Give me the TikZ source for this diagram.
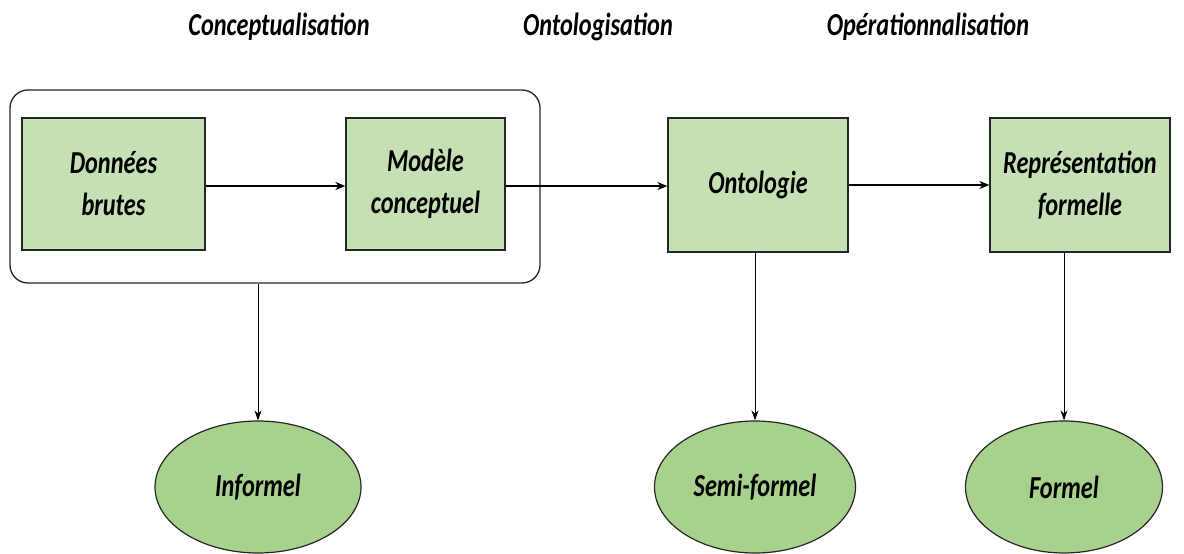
\documentclass[tikz,border=0pt]{standalone}
\usepackage{fontspec}
\setmainfont{Carlito}[FakeStretch=0.76]
\usetikzlibrary{shapes.geometric,arrows.meta}
\definecolor{boxfill}{HTML}{C5E0B4}
\definecolor{ovalfill}{HTML}{A9D18E}
\definecolor{edge}{HTML}{262626}
\tikzset{
  lbl/.style={font=\fontsize{32}{42}\selectfont\bfseries\itshape, align=center},
  stagebox/.style={lbl, draw=edge, line width=1.3pt, fill=boxfill, inner sep=0pt},
  level/.style={lbl, ellipse, draw=edge, line width=1.2pt, fill=ovalfill, inner sep=0pt,
    minimum height=132pt},
  group/.style={draw=edge, line width=1.3pt, rounded corners=18pt, inner sep=0pt},
  flow/.style={-{Stealth[length=10pt,width=8pt]}, line width=1.4pt, draw=black},
  down/.style={-{Stealth[length=10pt,width=7pt]}, line width=1pt, draw=black},
  phase/.style={lbl}
}
\begin{document}
\begin{tikzpicture}[x=1pt,y=-1pt]
\useasboundingbox (0,0) rectangle (1184,554);

% phase titles
\node[phase] (tc) at (279,27) {Conceptualisation};
\node[phase] (to) at (598,27) {Ontologisation};
\node[phase] (top) at (928,27) {Opérationnalisation};

% conceptualisation group
\node[group, minimum width=530pt, minimum height=193pt] (grp) at (275,186.5) {};

% stage boxes
\node[stagebox, minimum width=183pt, minimum height=132pt] (raw) at (113.5,184) {Données\\brutes};
\node[stagebox, minimum width=159pt, minimum height=132pt] (model) at (425.5,184) {Modèle\\conceptuel};
\node[stagebox, minimum width=180pt, minimum height=134pt] (onto) at (758,185) {Ontologie};
\node[stagebox, minimum width=180pt, minimum height=134pt] (repr) at (1080,185) {Représentation\\formelle};

% formality levels
\node[level, minimum width=206pt] (inf) at (258,487) {Informel};
\node[level, minimum width=201pt] (semi) at (755,487) {Semi-formel};
\node[level, minimum width=197pt] (form) at (1064,487) {Formel};

% horizontal flow
\draw[flow] (raw.east |- 0,186) -- (model.west |- 0,186);
\draw[flow] (model.east |- 0,186) -- (onto.west |- 0,186);
\draw[flow] (onto.east |- 0,185) -- (repr.west |- 0,185);

% links to formality levels
\draw[down] (grp.south -| inf.north) -- (inf.north);
\draw[down] (onto.south -| semi.north) -- (semi.north);
\draw[down] (repr.south -| form.north) -- (form.north);
\end{tikzpicture}
\end{document}
